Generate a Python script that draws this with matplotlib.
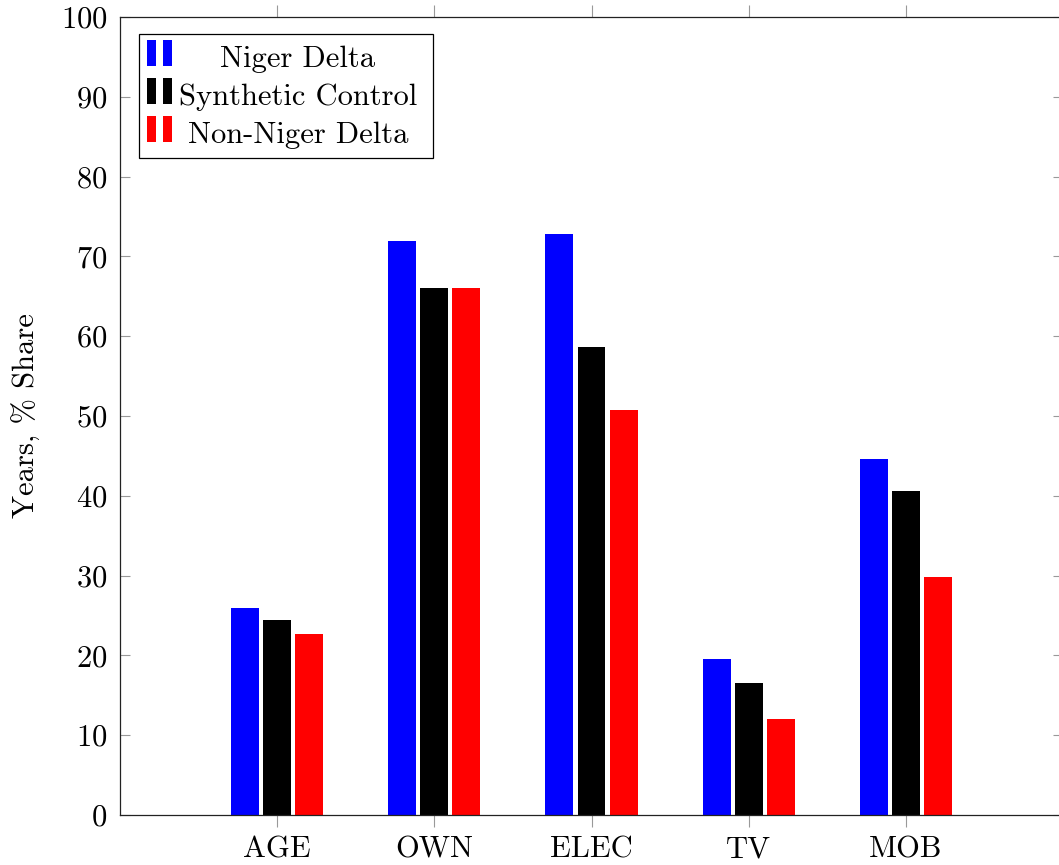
import matplotlib
matplotlib.use("Agg")
import matplotlib.pyplot as plt
import numpy as np
from matplotlib.patches import Rectangle

plt.rcParams["font.family"] = "serif"
plt.rcParams["font.serif"] = ["cmr10", "DejaVu Serif"]
plt.rcParams["axes.formatter.use_mathtext"] = True
plt.rcParams["mathtext.fontset"] = "cm"

categories = ["AGE", "OWN", "ELEC", "TV", "MOB"]
niger_delta = [25.9, 71.9, 72.8, 19.5, 44.6]
synthetic_control = [24.4, 66.0, 58.7, 16.5, 40.6]
non_niger_delta = [22.7, 66.0, 50.7, 12.0, 29.8]

series = [
    ("Niger Delta", niger_delta, "#0000ff"),
    ("Synthetic Control", synthetic_control, "#000000"),
    ("Non-Niger Delta", non_niger_delta, "#ff0000"),
]

W, H = 1059, 865
fig = plt.figure(figsize=(W / 100, H / 100), dpi=100)


def fx(px):
    return px / W


def fy(py):
    return 1 - py / H


ax = fig.add_axes([fx(120), fy(815), fx(1063) - fx(120), fy(17) - fy(815)])

x = np.arange(1, len(categories) + 1)
width = 0.178
step = 0.204
for i, (name, vals, color) in enumerate(series):
    ax.bar(x + (i - 1) * step, vals, width=width, color=color, label=name, zorder=2)

ax.set_xlim(0, 6)
ax.set_ylim(0, 100)
ax.set_xticks(x)
ax.set_xticklabels(categories)
ax.set_yticks(np.arange(0, 101, 10))

ax.tick_params(axis="x", direction="out", length=8.5, width=0.8, color="#999999",
               top=True, labelsize=22, pad=7)
ax.tick_params(axis="y", direction="in", length=7, width=0.8, color="#999999",
               right=True, labelsize=22, pad=9)
for s in ax.spines.values():
    s.set_linewidth(0.9)
    s.set_color("#222222")

ax.set_ylabel("Years, % Share", fontsize=22, labelpad=14)

# legend drawn by hand so entries sit centred in the box
box = Rectangle((fx(139), fy(158)), fx(433) - fx(139), fy(34) - fy(158),
                transform=fig.transFigure, facecolor="white", edgecolor="black",
                linewidth=0.9, zorder=5)
fig.add_artist(box)
row_centers = [53, 91, 129]
for (name, vals, color), yc in zip(series, row_centers):
    for left in (147, 163):
        fig.add_artist(Rectangle((fx(left), fy(yc + 13)), fx(9), 26 / H,
                                 transform=fig.transFigure, facecolor=color,
                                 edgecolor="none", zorder=6))
    fig.text(fx(298), fy(yc + 14), name, ha="center", va="baseline",
             fontsize=22, zorder=7)

fig.savefig("out.png", dpi=100)
